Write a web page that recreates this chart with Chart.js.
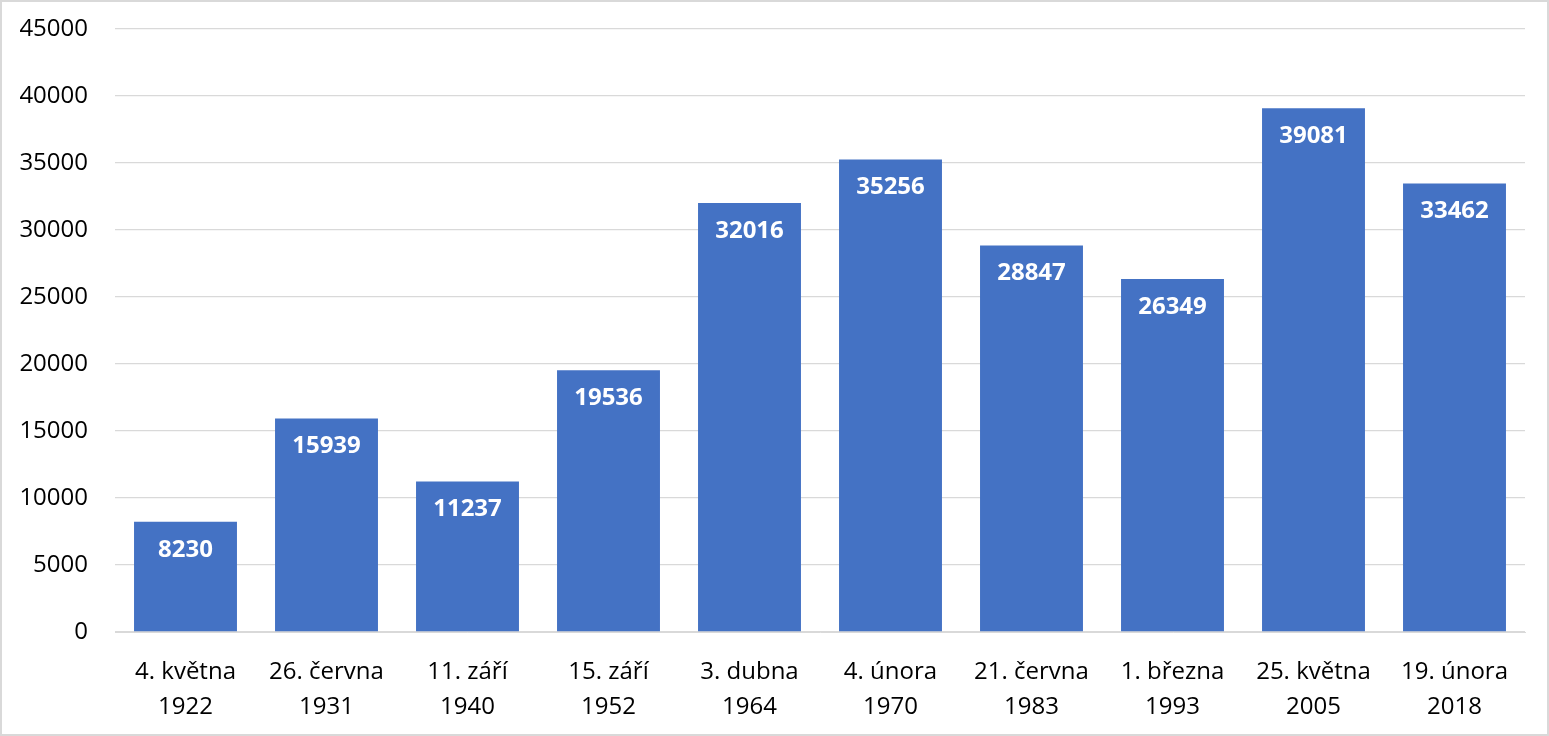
<!DOCTYPE html>
<html>
<head>
<meta charset="utf-8">
<script src="https://cdn.jsdelivr.net/npm/chart.js@4"></script>
<style>
  body { margin: 0; background: #fff; }
  #wrap { width: 1549px; height: 736px; box-sizing: border-box; border: 2px solid #d9d9d9; background: #fff; }
  #chart { display: block; }
</style>
</head>
<body>
<div id="wrap"><canvas id="chart" width="1545" height="732"></canvas></div>
<script>
// election dates and values
const dates = [
    ["4. května", "1922"],
    ["26. června", "1931"],
    ["11. září", "1940"],
    ["15. září", "1952"],
    ["3. dubna", "1964"],
    ["4. února", "1970"],
    ["21. června", "1983"],
    ["1. března", "1993"],
    ["25. května", "2005"],
    ["19. února", "2018"]
];
const values = [8230, 15939, 11237, 19536, 32016, 35256, 28847, 26349, 39081, 33462];

const fontFamily = "'Open Sans', 'Noto Sans', sans-serif";

// white bold numbers inside the top of each bar
const barLabels = {
    id: "barLabels",
    afterDatasetsDraw(chart) {
        const ctx = chart.ctx;
        const meta = chart.getDatasetMeta(0);
        ctx.save();
        ctx.fillStyle = "#ffffff";
        ctx.font = "bold 24px " + fontFamily;
        ctx.textAlign = "center";
        ctx.textBaseline = "middle";
        meta.data.forEach((bar, i) => {
            ctx.fillText(String(values[i]), bar.x, bar.y + 28);
        });
        ctx.restore();
    }
};

new Chart(document.getElementById("chart").getContext("2d"), {
    type: "bar",
    data: {
        labels: dates,
        datasets: [{
            data: values,
            backgroundColor: "#4472C4",
            barPercentage: 0.73,
            categoryPercentage: 1.0
        }]
    },
    options: {
        responsive: false,
        animation: false,
        layout: { padding: { top: 27, right: 22, left: 0, bottom: 0 } },
        plugins: { legend: { display: false }, tooltip: { enabled: false } },
        scales: {
            x: {
                grid: { display: false },
                border: { color: "#d9d9d9", width: 1 },
                ticks: {
                    color: "#000",
                    padding: 15,
                    maxRotation: 0,
                    autoSkip: false,
                    font: { family: fontFamily, size: 24, lineHeight: 1.45 }
                },
                afterFit(scale) { scale.height = 102; }
            },
            y: {
                min: 0,
                max: 45000,
                grid: { color: "#d9d9d9", lineWidth: 1.3, drawTicks: false },
                border: { display: false },
                ticks: {
                    stepSize: 5000,
                    color: "#000",
                    padding: 27,
                    font: { family: fontFamily, size: 24 },
                    callback: (v) => String(v)
                },
                afterFit(scale) {
                    scale.width = 113;
                    scale.paddingTop = 0;
                    scale.paddingBottom = 0;
                }
            }
        }
    },
    plugins: [barLabels]
});
</script>
</body>
</html>
